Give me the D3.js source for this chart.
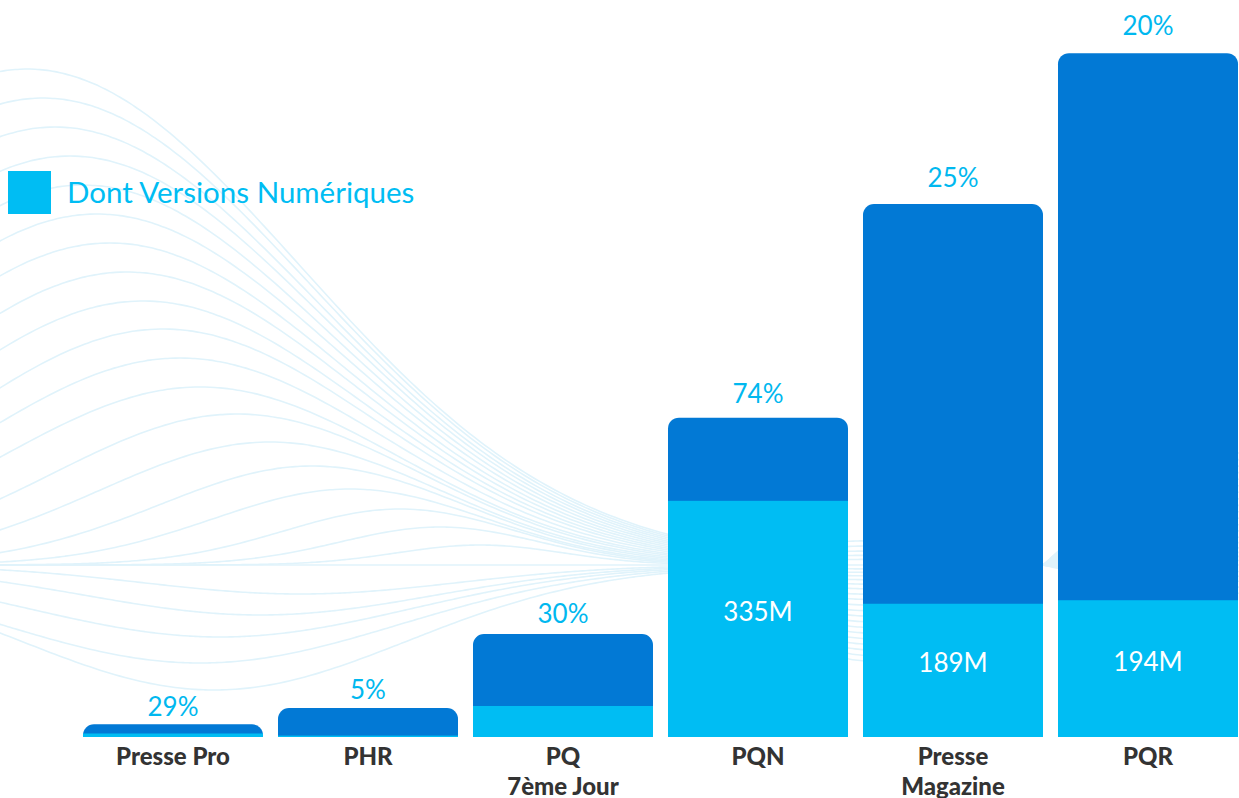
<!DOCTYPE html>
<html><head><meta charset="utf-8">
<script src="https://cdn.jsdelivr.net/npm/d3@7/dist/d3.min.js"></script>
<style>html,body{margin:0;padding:0;background:#fff;overflow:hidden}svg{display:block}</style>
</head><body>
<svg id="c" width="1239" height="798"></svg>
<script>
const categories = ["Presse Pro", "PHR", "PQ\n7ème Jour", "PQN", "Presse\nMagazine", "PQR"];
const totals = [18, 41, 146, 453, 756, 970];
const digital = [5, 2, 44, 335, 189, 194];
const pctLabels = ["29%", "5%", "30%", "74%", "25%", "20%"];
const digitalLabels = ["", "", "", "335M", "189M", "194M"];
const legendLabel = "Dont Versions Numériques";

const W = 1239, H = 798;
const svg = d3.select("#c");
const DARK = "#0279d5", LIGHT = "#00bdf3", PCT = "#00b8ef", LABEL = "#333333";

// decorative background waves (ornament, not data)
const bg = svg.append("g").attr("fill", "none").attr("stroke", "#e0f3fb").attr("stroke-width", 1.6);
const nodeX = 680, nodeY = 565;
const waveAmps = [496, 467, 438, 409, 380, 351, 322, 293, 264, 236, 207, 178, 151, 123, 99, 76, 56, 38, 20, 0, -29, -50, -72, -98, -125];
const wavePeaks = [27, 43, 55, 70, 83, 97, 110, 127, 143, 163, 180, 200, 237, 270, 312, 350, 400, 440, 480, 500, 300, 260, 220, 200, 214];
waveAmps.forEach((A, k) => {
  const p = wavePeaks[k];
  const s = (nodeX - p) / 1.7;
  const pts = d3.range(-10, W + 11, 5).map(x => {
    let yv;
    if (x <= nodeX) yv = nodeY - A * Math.exp(-Math.pow((x - p) / s, 2));
    else yv = nodeY - A * Math.exp(-Math.pow((nodeX - p) / s, 2)) * Math.exp(-(x - nodeX) / 250)
      + A * 0.22 * Math.sin(Math.PI * (x - nodeX) / 370);
    return [x, yv];
  });
  bg.append("path").attr("d", d3.line().curve(d3.curveBasis)(pts));
});

const x = d3.scaleBand().domain(categories).range([75.5, 1245.5])
  .paddingInner(15 / 195).paddingOuter(7.5 / 195).align(0.5);
const y = d3.scaleLinear().domain([0, 1000]).range([737, 32]);

function topRounded(x0, y0, w, h, r) {
  r = Math.min(r, h, w / 2);
  const p = d3.path();
  p.moveTo(x0, y0 + h);
  p.lineTo(x0, y0 + r);
  p.arcTo(x0, y0, x0 + r, y0, r);
  p.lineTo(x0 + w - r, y0);
  p.arcTo(x0 + w, y0, x0 + w, y0 + r, r);
  p.lineTo(x0 + w, y0 + h);
  p.closePath();
  return p.toString();
}

const data = categories.map((c, i) => ({ c, t: totals[i], d: digital[i], pct: pctLabels[i], dl: digitalLabels[i] }));
const g = svg.append("g");
const bw = x.bandwidth();

g.selectAll("path.tot").data(data).join("path").attr("class", "tot")
  .attr("fill", DARK)
  .attr("d", d => topRounded(x(d.c), y(d.t), bw, y(0) - y(d.t), 11));

g.selectAll("rect.dig").data(data).join("rect").attr("class", "dig")
  .attr("fill", LIGHT)
  .attr("x", d => x(d.c)).attr("width", bw)
  .attr("y", d => y(d.d)).attr("height", d => y(0) - y(d.d));

const gap = d3.scaleSqrt().domain([0, 970]).range([7, 18]);
g.selectAll("text.pct").data(data).join("text").attr("class", "pct")
  .attr("x", d => x(d.c) + bw / 2).attr("y", d => y(d.t) - gap(d.t))
  .attr("text-anchor", "middle").attr("fill", PCT)
  .style("font-family", "Lato").style("font-size", "26px")
  .text(d => d.pct);

g.selectAll("text.dl").data(data.filter(d => d.dl)).join("text").attr("class", "dl")
  .attr("x", d => x(d.c) + bw / 2).attr("y", d => (y(d.d) + y(0)) / 2 - 7)
  .attr("dy", "0.35em")
  .attr("text-anchor", "middle").attr("fill", "#ffffff")
  .style("font-family", "Lato").style("font-size", "26px")
  .text(d => d.dl);

// category axis labels
const ax = svg.append("g");
data.forEach(d => {
  const lines = d.c.split("\n");
  const t = ax.append("text").attr("text-anchor", "middle").attr("fill", LABEL)
    .style("font-family", "Lato").style("font-weight", "900").style("font-size", "24px");
  lines.forEach((ln, j) => {
    t.append("tspan").attr("x", x(d.c) + bw / 2).attr("y", 765 + j * 30).text(ln);
  });
});

// legend
svg.append("rect").attr("x", 8).attr("y", 171).attr("width", 43).attr("height", 43).attr("fill", LIGHT);
svg.append("text").attr("x", 67).attr("y", 203).attr("fill", LIGHT)
  .style("font-family", "Lato").style("font-size", "29.5px").text(legendLabel);
</script>
</body></html>
